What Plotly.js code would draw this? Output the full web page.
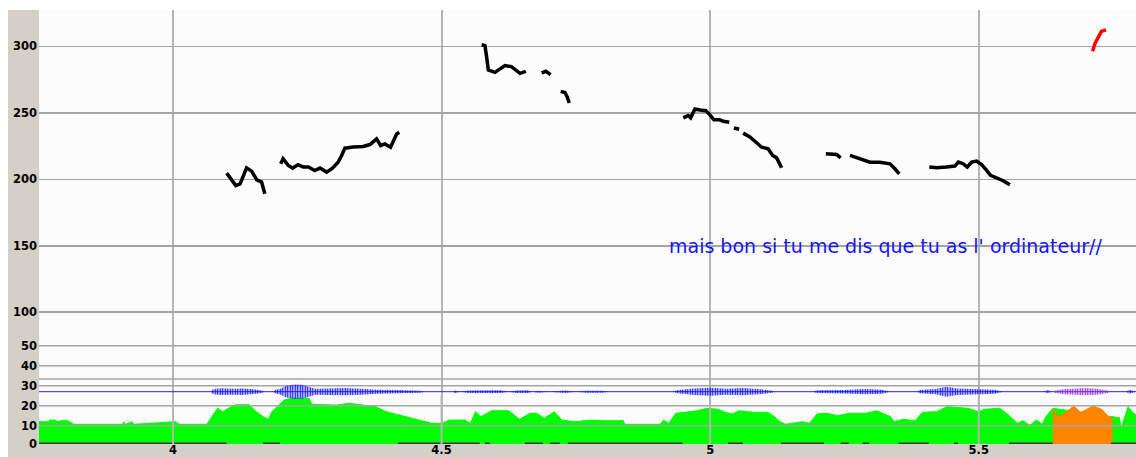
<!DOCTYPE html>
<html>
<head>
<meta charset="utf-8">
<script src="https://cdn.plot.ly/plotly-3.0.1.min.js"></script>
<style>html,body{margin:0;padding:0;background:#fff;}#chart{width:1136px;height:457px;}</style>
</head>
<body>
<div id="chart"></div>
<script>
// ---- data ----
const timeTicks = [4, 4.5, 5, 5.5];
const timeTickLabels = ['4', '4.5', '5', '5.5'];
const pitchTicks = [100, 150, 200, 250, 300];
const intensityTicks = [0.9, 10, 20, 30, 40, 50];
const intensityTickLabels = ['0', '10', '20', '30', '40', '50'];
const intensityGridExtra = [33.3];
const waveBaseline = 27;

// pitch contour (Hz), segments separated by null
const pitchTime = [
  4.100, 4.117, 4.125, 4.137, 4.1465, 4.156, 4.165, 4.171, null,
  4.2005, 4.205, 4.2146, 4.2228, 4.233, 4.2426, 4.252, 4.264, 4.2736, 4.286, 4.297, 4.3077, 4.314, 4.320, 4.3357, 4.354, 4.3667, 4.379, 4.3866, 4.3946, 4.405, 4.4114, 4.4164, 4.4213, null,
  4.5746, 4.5808, 4.584, 4.587, 4.5994, 4.6087, 4.618, 4.630, 4.6398, 4.646, 4.657, null,
  4.6863, 4.6943, 4.703, null,
  4.7217, 4.7297, 4.734, 4.7377, null,
  4.950, 4.959, 4.9637, 4.9717, 4.981, 4.992, 5.0007, 5.007, 5.018, 5.0244, 5.0356, null,
  5.0443, 5.054, null,
  5.0615, 5.074, 5.085, 5.0958, 5.108, 5.1163, 5.1238, 5.1286, 5.133, null,
  5.2154, 5.2355, 5.243, null,
  5.2603, 5.2696, 5.285, 5.2975, 5.316, 5.3347, 5.344, 5.352, null,
  5.408, 5.4216, 5.440, 5.4557, 5.462, 5.471, 5.4786, 5.487, 5.496, 5.5054, 5.5147, 5.522, 5.533, 5.5445, 5.558
];
const pitchHz = [
  204.6, 195.3, 196.6, 208.6, 206.1, 199.6, 197.9, 189.1, null,
  211.6, 215.4, 210.4, 208.4, 211.0, 209.2, 209.2, 206.6, 208.4, 205.4, 208.4, 213.0, 217.9, 223.4, 224.2, 224.7, 226.1, 230.4, 225.4, 226.6, 224.1, 229.1, 234.1, 235.4, null,
  301.2, 300.5, 291.7, 282.2, 280.4, 283.0, 285.5, 284.7, 281.7, 279.7, 281.2, null,
  280.0, 281.2, 278.7, null,
  266.1, 265.3, 261.8, 257.4, null,
  246.2, 247.9, 246.2, 252.9, 252.1, 251.6, 247.9, 244.7, 244.7, 243.6, 242.9, null,
  238.6, 237.6, null,
  234.7, 231.8, 228.0, 224.1, 222.9, 217.9, 216.1, 212.8, 208.6, null,
  219.1, 218.6, 216.1, null,
  217.9, 216.6, 214.1, 212.8, 212.8, 211.6, 207.9, 204.1, null,
  209.2, 208.6, 209.2, 209.9, 212.9, 211.7, 209.2, 212.9, 213.7, 211.1, 206.6, 202.9, 201.1, 199.1, 195.8
];
const redTime = [5.712, 5.716, 5.7225, 5.7286, 5.737];
const redHz = [296.2, 301.7, 306.7, 311.3, 312.3];

// intensity (dB)
const intensityTime = [
  3.750, 3.769, 3.770, 3.782, 3.783, 3.799, 3.808, 3.815, 3.907, 3.908, 3.912, 3.923, 3.928, 4.005, 4.012,
  4.063, 4.083, 4.093, 4.103, 4.116, 4.142, 4.155, 4.168, 4.178, 4.184, 4.194, 4.207, 4.220, 4.253, 4.259,
  4.305, 4.328, 4.351, 4.377, 4.397, 4.436, 4.469, 4.482, 4.501, 4.514, 4.544, 4.554, 4.563, 4.573, 4.593,
  4.625, 4.645, 4.665, 4.678, 4.691, 4.710, 4.724, 4.750, 4.775, 4.805, 4.838, 4.841, 4.907, 4.913, 4.923,
  4.936, 4.956, 4.976, 4.995, 5.015, 5.028, 5.041, 5.054, 5.081, 5.107, 5.120, 5.130, 5.140, 5.172, 5.185,
  5.199, 5.218, 5.238, 5.258, 5.290, 5.310, 5.336, 5.343, 5.359, 5.382, 5.395, 5.421, 5.441, 5.461, 5.480,
  5.500, 5.510, 5.539, 5.552, 5.572, 5.582, 5.595, 5.608, 5.618, 5.625, 5.638, 5.749, 5.762, 5.765, 5.778,
  5.788, 5.794
];
const intensityDb = [
  12.0, 12.0, 12.8, 12.8, 12.0, 12.8, 12.0, 10.7, 10.7, 12.0, 10.7, 12.0, 10.7, 12.0, 10.7,
  10.7, 18.7, 17.0, 18.7, 20.5, 20.5, 17.0, 14.5, 13.2, 17.0, 19.5, 22.8, 23.7, 23.7, 20.7,
  20.3, 21.2, 20.3, 19.5, 17.0, 14.5, 12.0, 11.2, 11.2, 12.8, 12.8, 11.2, 17.0, 14.5, 17.5,
  17.5, 13.2, 16.2, 16.2, 13.7, 17.0, 12.8, 12.0, 12.8, 12.5, 12.5, 10.7, 10.7, 12.8, 11.2,
  16.2, 16.7, 17.5, 18.7, 18.2, 16.7, 15.9, 17.5, 16.7, 16.7, 14.5, 12.0, 10.7, 12.0, 11.2,
  15.9, 16.2, 15.0, 16.2, 16.2, 17.5, 14.5, 12.0, 13.2, 12.5, 16.7, 17.0, 19.5, 19.2, 18.7,
  17.0, 18.2, 18.7, 16.2, 11.2, 12.5, 10.3, 12.8, 10.7, 14.5, 18.7, 14.2, 14.0, 8.7, 19.5,
  16.2, 15.4
];
// highlighted (orange) stretch of the intensity curve
const highlightTime = [5.638, 5.648, 5.661, 5.677, 5.690, 5.713, 5.729, 5.742, 5.749];
const highlightDb = [18.7, 14.5, 16.5, 19.8, 16.7, 19.8, 18.2, 14.5, 14.2];

// waveform envelope (half amplitude, dB-panel units) around baseline
const waveTime = [
  3.75, 4.070, 4.075, 4.09, 4.11, 4.13, 4.15, 4.165, 4.17, 4.185, 4.19, 4.20, 4.21, 4.225, 4.24, 4.255, 4.265,
  4.29, 4.32, 4.35, 4.38, 4.42, 4.46, 4.47, 4.52, 4.525, 4.535, 4.55, 4.58, 4.61, 4.625, 4.64, 4.66, 4.67,
  4.68, 4.70, 4.73, 4.75, 4.77, 4.80, 4.81, 4.93, 4.94, 4.97, 5.00, 5.03, 5.06, 5.09, 5.115, 5.12, 5.19,
  5.20, 5.25, 5.29, 5.32, 5.335, 5.385, 5.39, 5.42, 5.44, 5.46, 5.50, 5.53, 5.545, 5.62, 5.63, 5.635, 5.64,
  5.745, 5.775, 5.78, 5.79, 5.793
];
const waveAmp = [
  0, 0, 1.3, 1.7, 1.5, 1.6, 1.2, 0.6, 0, 0, 0.8, 1.5, 2.8, 3.6, 3.5, 2.5, 1.5,
  1.6, 1.8, 1.5, 1.0, 0.8, 0.5, 0, 0, 0.6, 0, 0.6, 0.8, 0.7, 0, 0.6, 0.7, 0,
  0.5, 0, 0.6, 0, 0.5, 0.5, 0, 0, 0.8, 1.6, 2.0, 1.5, 1.8, 1.3, 0.5, 0, 0,
  0.7, 0.9, 1.3, 1.0, 0, 0, 0.8, 1.3, 2.5, 1.6, 1.4, 1.0, 0, 0, 0.8, 0, 0,
  0, 0, 1.0, 0.5, 0
];
const waveHlTime = [5.64, 5.66, 5.70, 5.72, 5.74, 5.745];
const waveHlAmp = [0.5, 1.3, 1.8, 1.5, 0.6, 0];

// voiced stretches marked on the bottom line
const voicedStart = [3.75, 4.168, 4.419, 4.581, 4.655, 4.702, 4.735, 5.033, 5.132, 5.243, 5.284, 5.351, 5.454, 5.556, 5.746];
const voicedEnd   = [4.10, 4.199, 4.571, 4.590, 4.689, 4.720, 4.949, 5.061, 5.212, 5.258, 5.296, 5.407, 5.461, 5.638, 5.793];

const transcript = "mais bon si tu me dis que tu as l' ordinateur//";

// ---- construction ----
const xRange = [3.7506, 5.7928];
const pitchRange = [0.9, 327.3];
const dbRange = [0.85, 217.85];

function segs(starts, ends, val) {
  const x = [], y = [];
  starts.forEach((s, i) => { x.push(s, ends[i], null); y.push(val, val, null); });
  return {x, y};
}
function hlines(vals) {
  const x = [], y = [];
  vals.forEach(v => { x.push(xRange[0], xRange[1], null); y.push(v, v, null); });
  return {x, y};
}
function vlines(vals, lo, hi) {
  const x = [], y = [];
  vals.forEach(v => { x.push(v, v, null); y.push(lo, hi, null); });
  return {x, y};
}

const tickFont = {family: 'DejaVu Sans', size: 11.5, color: '#000', weight: 'bold'};
const grid = '#a4a4a4';

const lowGrid = hlines(intensityTicks.filter(v => v > 5).concat(intensityGridExtra));
const lowV = vlines(timeTicks, dbRange[0], 25);
const voiced = segs(voicedStart, voicedEnd, 1.1);

const wavePattern = {shape: '|', fgcolor: '#1010ff', bgcolor: 'rgba(0,0,0,0)', size: 2.5, solidity: 0.55};
const hlPattern = {shape: '|', fgcolor: '#9a30c8', bgcolor: 'rgba(0,0,0,0)', size: 2.5, solidity: 0.55};

const traces = [
  {x: intensityTime, y: intensityDb, yaxis: 'y2', type: 'scatter', mode: 'lines', fill: 'tozeroy',
   fillcolor: '#00ff00', line: {color: '#00ff00', width: 1}},
  {x: highlightTime, y: highlightDb, yaxis: 'y2', type: 'scatter', mode: 'lines', fill: 'tozeroy',
   fillcolor: '#ff8400', line: {color: '#ff8400', width: 1}},
  {x: voiced.x, y: voiced.y, yaxis: 'y2', mode: 'lines', line: {color: '#3a3a3a', width: 2}},
  {x: lowGrid.x, y: lowGrid.y, yaxis: 'y2', mode: 'lines', line: {color: grid, width: 1.5}},
  {x: lowV.x, y: lowV.y, yaxis: 'y2', mode: 'lines', line: {color: '#b4b4b4', width: 2}},
  {x: xRange, y: [waveBaseline, waveBaseline], yaxis: 'y2', mode: 'lines', line: {color: '#2020ff', width: 1}},
  {x: waveTime, y: waveTime.map((t, i) => waveBaseline - waveAmp[i]), yaxis: 'y2', mode: 'lines',
   line: {color: 'rgba(0,0,0,0)', width: 0}},
  {x: waveTime, y: waveTime.map((t, i) => waveBaseline + waveAmp[i]), yaxis: 'y2', mode: 'lines',
   fill: 'tonexty', fillcolor: 'rgba(40,40,255,0.35)', fillpattern: wavePattern,
   line: {color: 'rgba(0,0,0,0)', width: 0}},
  {x: waveHlTime, y: waveHlTime.map((t, i) => waveBaseline - waveHlAmp[i]), yaxis: 'y2', mode: 'lines',
   line: {color: 'rgba(0,0,0,0)', width: 0}},
  {x: waveHlTime, y: waveHlTime.map((t, i) => waveBaseline + waveHlAmp[i]), yaxis: 'y2', mode: 'lines',
   fill: 'tonexty', fillcolor: 'rgba(150,40,200,0.35)', fillpattern: hlPattern,
   line: {color: 'rgba(0,0,0,0)', width: 0}},
  {x: pitchTime, y: pitchHz, yaxis: 'y', mode: 'lines', connectgaps: false, line: {color: '#000', width: 3.5}},
  {x: redTime, y: redHz, yaxis: 'y', mode: 'lines', line: {color: '#ff0000', width: 3.5}}
];

const layout = {
  width: 1136, height: 457,
  margin: {l: 39, r: 0, t: 10, b: 13, pad: 0},
  paper_bgcolor: '#d4d0c8',
  plot_bgcolor: '#fcfcfc',
  showlegend: false,
  hovermode: false,
  xaxis: {range: xRange, tickvals: timeTicks, ticktext: timeTickLabels, showgrid: true,
          gridcolor: '#b4b4b4', gridwidth: 2, zeroline: false, showline: false, ticks: '',
          tickfont: tickFont, ticklabelstandoff: -3, fixedrange: true},
  yaxis: {range: pitchRange, tickvals: pitchTicks, showgrid: true, gridcolor: grid, gridwidth: 1.5,
          zeroline: false, showline: false, ticks: '', tickfont: tickFont, ticklabelshift: 3.5,
          ticklabelstandoff: 1, fixedrange: true},
  yaxis2: {range: dbRange, tickvals: intensityTicks, ticktext: intensityTickLabels, overlaying: 'y',
           side: 'left', anchor: 'x', showgrid: false, zeroline: false, showline: false, ticks: '',
           tickfont: tickFont, ticklabelshift: 3.5, ticklabelstandoff: 1, fixedrange: true},
  shapes: [
    {type: 'rect', xref: 'paper', yref: 'paper', x0: -0.05, x1: 1.01, y0: 1, y1: 1.05,
     fillcolor: '#ffffff', line: {width: 0}, layer: 'below'},
    {type: 'rect', xref: 'paper', yref: 'paper', x0: -0.05, x1: -31 / 1097, y0: -0.05, y1: 1.05,
     fillcolor: '#ffffff', line: {width: 0}, layer: 'below'}
  ],
  annotations: [
    {text: transcript, x: 5.3273, y: 149.5, xref: 'x', yref: 'y', showarrow: false,
     xanchor: 'center', yanchor: 'middle', font: {family: 'DejaVu Sans', size: 19, color: '#1414ff'}}
  ]
};

Plotly.newPlot('chart', traces, layout, {staticPlot: true, displayModeBar: false});
</script>
</body>
</html>
